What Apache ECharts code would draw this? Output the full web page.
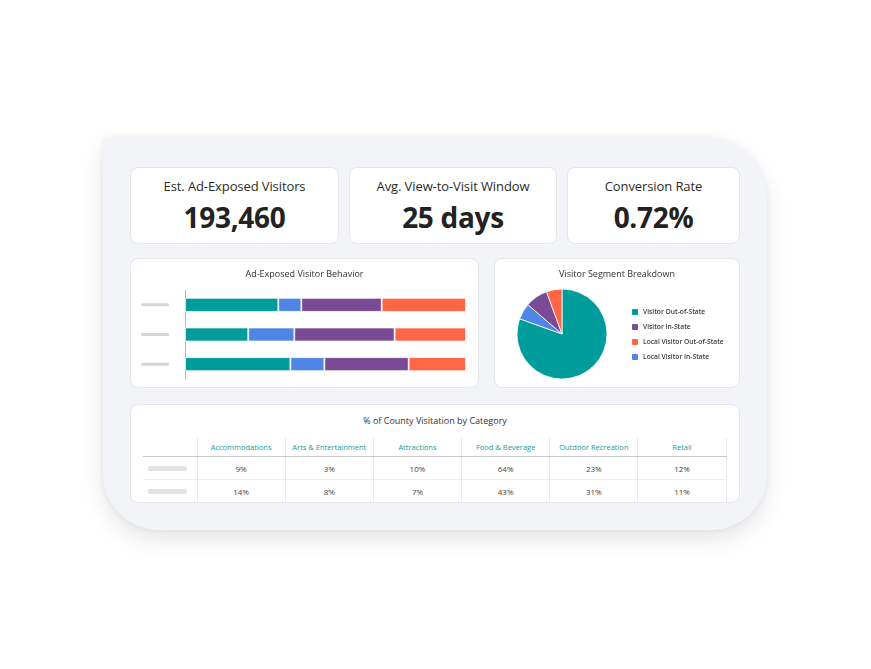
<!DOCTYPE html>
<html>
<head>
<meta charset="utf-8">
<script src="https://cdn.jsdelivr.net/npm/echarts@6/dist/echarts.min.js"></script>
<style>
  html, body { margin:0; padding:0; background:#fff; width:871px; height:669px; overflow:hidden; font-family:"Open Sans", "Noto Sans", sans-serif; }
  .panel { position:absolute; left:103px; top:137px; width:664px; height:393px; background:#f3f4f8;
           border-radius:3px 62px 56px 56px; box-shadow:0 10px 22px rgba(0,0,0,0.10), 0 0 6px rgba(0,0,0,0.05); }
  .card { position:absolute; background:#fff; border:1px solid #e4e6ec; border-radius:8px; box-sizing:border-box; }
  .kpi-title { position:absolute; left:0; right:0; top:9px; text-align:center; font-size:13px; color:#2b2b2b; letter-spacing:-0.1px; }
  .kpi-value { position:absolute; left:0; right:0; top:30px; text-align:center; font-size:28px; font-weight:700; color:#222; letter-spacing:-0.3px; }
  .chart { position:absolute; left:0; top:0; width:100%; height:100%; }
  .tbl-title { position:absolute; left:0; right:0; top:9px; text-align:center; font-size:9px; color:#333; }
  table { position:absolute; left:12px; top:33px; border-collapse:collapse; font-size:7.5px; table-layout:fixed; }
  th { color:#169c9c; font-weight:400; height:18px; padding:0; border-left:1px solid #e9e9ec; border-bottom:1px solid #c9cacd; }
  td { color:#444; height:22px; padding:0; text-align:center; border-left:1px solid #e9e9ec; border-bottom:1px solid #ededf0; font-size:8px; }
  th:first-child, td:first-child { border-left:none; }
  th:last-child, td:last-child { border-right:1px solid #e9e9ec; }
  tr:last-child td { border-bottom:none; }
  .pill { width:39px; height:5px; border-radius:3px; background:#e2e2e4; margin-left:5px; }
</style>
</head>
<body>
<div class="panel"></div>

<div class="card" style="left:130px;top:167px;width:209px;height:77px;">
  <div class="kpi-title" id="k0t"></div><div class="kpi-value" id="k0v"></div>
</div>
<div class="card" style="left:349px;top:167px;width:208px;height:77px;">
  <div class="kpi-title" id="k1t"></div><div class="kpi-value" id="k1v"></div>
</div>
<div class="card" style="left:567px;top:167px;width:173px;height:77px;">
  <div class="kpi-title" id="k2t"></div><div class="kpi-value" id="k2v"></div>
</div>

<div class="card" style="left:130px;top:258px;width:349px;height:130px;"><div class="chart" id="bar"></div></div>
<div class="card" style="left:494px;top:258px;width:246px;height:130px;"><div class="chart" id="pie"></div></div>

<div class="card" style="left:130px;top:404px;width:610px;height:99px;">
  <div class="tbl-title">% of County Visitation by Category</div>
  <table id="tbl"></table>
</div>

<script>
// kpi cards
var kpiTitles = ['Est. Ad-Exposed Visitors', 'Avg. View-to-Visit Window', 'Conversion Rate'];
var kpiValues = ['193,460', '25 days', '0.72%'];

// segments (shared colours)
var segNames = ['Visitor Out-of-State', 'Local Visitor In-State', 'Visitor In-State', 'Local Visitor Out-of-State'];
var segColors = ['#009b9b', '#4f86e6', '#7a4a94', '#ff6645'];

// stacked bar rows (percent of each row)
var barRows = ['a', 'b', 'c'];
var outOfState = [33.2, 22.5, 37.5];
var localInState = [8.2, 16.4, 12.1];
var inState = [28.6, 35.7, 30.0];
var localOutOfState = [30.0, 25.4, 20.4];

// pie
var pieValues = [80.5, 5.8, 8.1, 5.6];
var legendOrder = ['Visitor Out-of-State', 'Visitor In-State', 'Local Visitor Out-of-State', 'Local Visitor In-State'];

// table
var tblCategories = ['Accommodations', 'Arts & Entertainment', 'Attractions', 'Food & Beverage', 'Outdoor Recreation', 'Retail'];
var tblRow1 = ['9%', '3%', '10%', '64%', '23%', '12%'];
var tblRow2 = ['14%', '8%', '7%', '43%', '31%', '11%'];

for (var i = 0; i < 3; i++) {
  document.getElementById('k' + i + 't').textContent = kpiTitles[i];
  document.getElementById('k' + i + 'v').textContent = kpiValues[i];
}

var FONT = '"Open Sans", "Noto Sans", sans-serif';

var barChart = echarts.init(document.getElementById('bar'), null, { renderer: 'canvas' });
var barData = [outOfState, localInState, inState, localOutOfState];
barChart.setOption({
  animation: false,
  textStyle: { fontFamily: FONT },
  title: { text: 'Ad-Exposed Visitor Behavior', left: 'center', top: 6,
           textStyle: { fontSize: 9, fontWeight: 'normal', color: '#333' } },
  grid: { left: 54, right: 12, top: 31, bottom: 8 },
  xAxis: { type: 'value', min: 0, max: 100, show: false },
  yAxis: {
    type: 'category', data: barRows, inverse: true,
    axisLine: { show: true, lineStyle: { color: '#b5b5b5', width: 1 } },
    axisTick: { show: false },
    axisLabel: { margin: 16, formatter: function () { return '{ph|}'; },
      rich: { ph: { width: 28, height: 3, backgroundColor: '#d6d6d8', borderRadius: 2 } } }
  },
  series: segNames.map(function (n, k) {
    return { name: n, type: 'bar', stack: 'all', barWidth: 14, data: barData[k],
             itemStyle: { color: segColors[k], borderColor: '#fff', borderWidth: 0.8 } };
  })
});

var pieChart = echarts.init(document.getElementById('pie'));
pieChart.setOption({
  animation: false,
  textStyle: { fontFamily: FONT },
  title: { text: 'Visitor Segment Breakdown', left: 'center', top: 6,
           textStyle: { fontSize: 9, fontWeight: 'normal', color: '#333' } },
  legend: {
    orient: 'vertical', left: 135, top: 48, padding: 0, icon: 'roundRect', itemWidth: 8, itemHeight: 8,
    itemGap: 5, data: legendOrder,
    textStyle: { fontSize: 6.7, fontWeight: 600, color: '#3a3a3a', lineHeight: 10, padding: [0, 0, 0, -1] }
  },
  series: [{
    type: 'pie', center: [67, 75], radius: 45, startAngle: 90, clockwise: true,
    label: { show: false }, labelLine: { show: false },
    itemStyle: { borderColor: '#fff', borderWidth: 0.8 },
    data: segNames.map(function (n, k) { return { name: n, value: pieValues[k], itemStyle: { color: segColors[k] } }; })
  }]
});

// table
var tbl = document.getElementById('tbl');
var html = '<colgroup><col style="width:54px">';
tblCategories.forEach(function () { html += '<col style="width:88.2px">'; });
html += '</colgroup><tr><th></th>';
tblCategories.forEach(function (c) { html += '<th>' + c + '</th>'; });
html += '</tr>';
[tblRow1, tblRow2].forEach(function (row) {
  html += '<tr><td><div class="pill"></div></td>';
  row.forEach(function (v) { html += '<td>' + v + '</td>'; });
  html += '</tr>';
});
tbl.innerHTML = html;
</script>
</body>
</html>
